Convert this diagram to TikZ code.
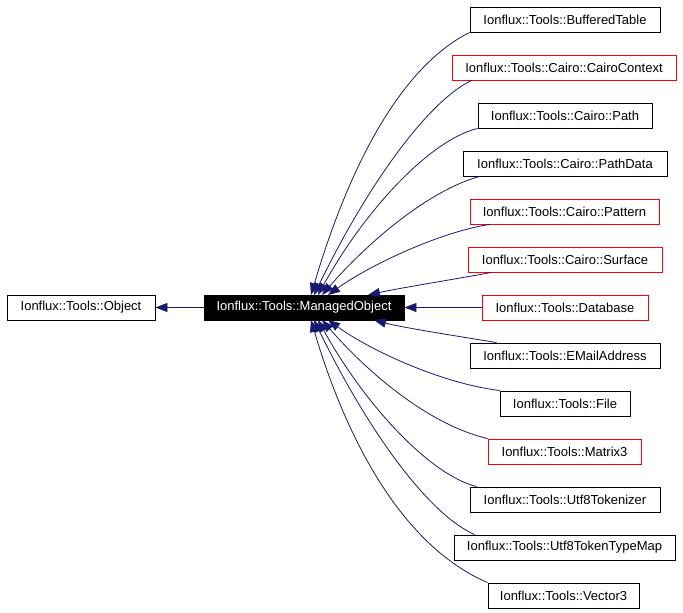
\documentclass[tikz,border=0pt]{standalone}
\usepackage{fontspec}
\setmainfont{Liberation Sans}
\usetikzlibrary{arrows.meta}
\definecolor{edgeblue}{RGB}{25,25,112}
\begin{document}
\begin{tikzpicture}[x=1pt,y=-1pt,
  box/.style={draw=black,line width=0.9pt,minimum height=25pt,inner sep=0pt,
    font=\fontsize{13}{15}\selectfont,fill=white},
  redbox/.style={box,draw=red},
  mobox/.style={box,fill=black,text=white},
  edge/.style={draw=edgeblue,line width=0.8pt,
    -{Triangle[length=12pt,width=9pt,fill=edgeblue]}}]
\useasboundingbox (0,0) rectangle (683,613);
\node[box,minimum width=148pt] (obj) at (81,307.5) {Ionflux::Tools::Object};
\node[mobox,minimum width=200pt] (mo) at (304,307.5) {Ionflux::Tools::ManagedObject};
\node[box,minimum width=190pt] (b1) at (565,19.5) {Ionflux::Tools::BufferedTable};
\node[redbox,minimum width=224pt] (b2) at (564,67.5) {Ionflux::Tools::Cairo::CairoContext};
\node[box,minimum width=174pt] (b3) at (565,115.5) {Ionflux::Tools::Cairo::Path};
\node[box,minimum width=204pt] (b4) at (565,163.5) {Ionflux::Tools::Cairo::PathData};
\node[redbox,minimum width=189pt] (b5) at (564.5,211.5) {Ionflux::Tools::Cairo::Pattern};
\node[redbox,minimum width=194pt] (b6) at (565,259.5) {Ionflux::Tools::Cairo::Surface};
\node[redbox,minimum width=166pt] (b7) at (565,307.5) {Ionflux::Tools::Database};
\node[box,minimum width=190pt] (b8) at (565,355.5) {Ionflux::Tools::EMailAddress};
\node[box,minimum width=130pt] (b9) at (565,403.5) {Ionflux::Tools::File};
\node[redbox,minimum width=153pt] (b10) at (564.5,451.5) {Ionflux::Tools::Matrix3};
\node[box,minimum width=190pt] (b11) at (565,499.5) {Ionflux::Tools::Utf8Tokenizer};
\node[box,minimum width=221pt] (b12) at (564.5,547.5) {Ionflux::Tools::Utf8TokenTypeMap};
\node[box,minimum width=151pt] (b13) at (563.5,595.5) {Ionflux::Tools::Vector3};
% arrow tips on ManagedObject
\coordinate (t1) at (311,295);
\coordinate (t2) at (314,295);
\coordinate (t3) at (318,295);
\coordinate (t4) at (322,295);
\coordinate (t5) at (328,295);
\coordinate (t6) at (368,295);
\coordinate (t8) at (374,320);
\coordinate (t9) at (328,320);
\coordinate (t10) at (322,320);
\coordinate (t11) at (318,320);
\coordinate (t12) at (314,320);
\coordinate (t13) at (311,320);
\draw[edge] (mo.west) -- (obj.east);
\draw[edge] (b1.south west) .. controls (395,70) and (345,180) .. (t1);
\draw[edge] ([xshift=20pt]b2.south west) .. controls (430,100) and (370,180) .. (t2);
\draw[edge] (b3.south west) .. controls (430,140) and (365,210) .. (t3);
\draw[edge] ([xshift=17pt]b4.south west) .. controls (430,190) and (370,240) .. (t4);
\draw[edge] ([xshift=20pt]b5.south west) .. controls (440,232) and (370,265) .. (t5);
\draw[edge] ([xshift=24pt]b6.south west) .. controls (450,280) and (400,288) .. (t6);
\draw[edge] (b7.west) -- (mo.east);
\draw[edge] ([xshift=27pt]b8.north west) .. controls (450,335) and (400,327) .. (t8);
\draw[edge] (b9.north west) .. controls (440,383) and (370,350) .. (t9);
\draw[edge] (b10.north west) .. controls (430,425) and (370,375) .. (t10);
\draw[edge] ([xshift=7pt]b11.north west) .. controls (430,475) and (365,405) .. (t11);
\draw[edge] ([xshift=21pt]b12.north west) .. controls (430,515) and (370,435) .. (t12);
\draw[edge] (b13.north west) .. controls (400,545) and (345,435) .. (t13);
\end{tikzpicture}
\end{document}
